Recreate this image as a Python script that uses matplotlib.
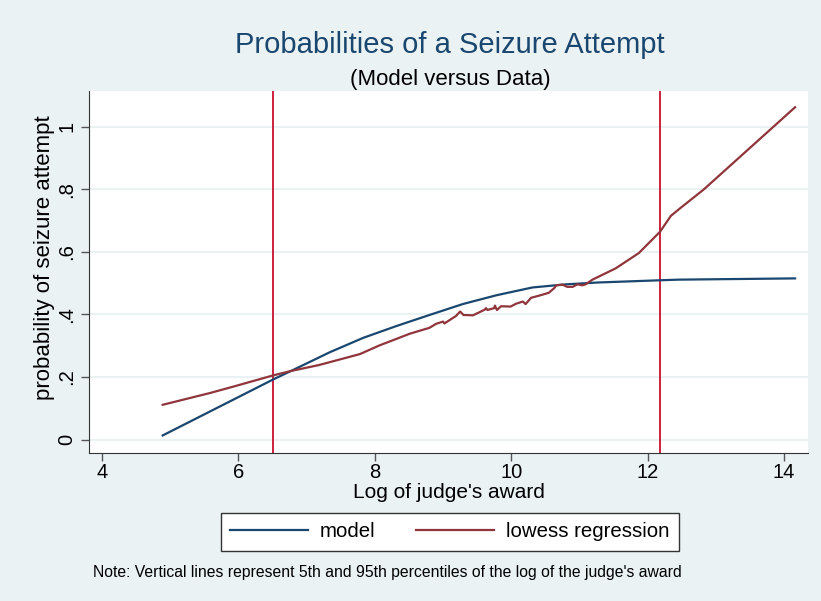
import matplotlib
matplotlib.use("Agg")
import matplotlib.pyplot as plt

plt.rcParams["font.family"] = ["Liberation Sans", "DejaVu Sans"]

# model curve
model_x = [4.89, 6.51, 6.77, 7.34, 7.83, 8.32, 8.80, 9.29, 9.78, 10.31, 10.80, 11.28,
           12.18, 12.45, 14.16]
model_y = [0.013, 0.192, 0.219, 0.279, 0.325, 0.363, 0.398, 0.433, 0.461, 0.486, 0.496,
           0.502, 0.509, 0.511, 0.515]

# lowess regression curve
lowess_x = [4.89, 5.59, 5.94, 6.51, 6.77, 7.18, 7.78, 8.07, 8.51, 8.80, 8.90, 9.00, 9.02, 9.19,
            9.25, 9.30, 9.44, 9.61, 9.63, 9.65, 9.75, 9.76, 9.79, 9.85, 9.99, 10.07, 10.17,
            10.21, 10.29, 10.41, 10.55, 10.63, 10.66, 10.75, 10.82, 10.90, 10.97, 11.04, 11.09,
            11.19, 11.53, 11.87, 12.18, 12.34, 12.48, 12.82, 14.16]
lowess_y = [0.111, 0.149, 0.170, 0.205, 0.219, 0.238, 0.273, 0.301, 0.338, 0.357, 0.370, 0.377,
            0.371, 0.395, 0.409, 0.398, 0.397, 0.415, 0.420, 0.414, 0.420, 0.428, 0.414, 0.426,
            0.425, 0.434, 0.441, 0.433, 0.453, 0.460, 0.469, 0.484, 0.493, 0.495, 0.488, 0.488,
            0.496, 0.493, 0.496, 0.511, 0.547, 0.596, 0.664, 0.715, 0.740, 0.799, 1.062]

# 5th and 95th percentiles
pct_lines = [6.51, 12.18]

xticks = [4, 6, 8, 10, 12, 14]
yticks = [0, 0.2, 0.4, 0.6, 0.8, 1.0]
ytick_labels = ["0", ".2", ".4", ".6", ".8", "1"]

bg = "#EAF2F3"
navy = "#1A476F"
maroon = "#90353B"
red = "#C8102E"

fig = plt.figure(figsize=(8.21, 6.01), dpi=100, facecolor=bg)
ax = fig.add_axes([0.1084, 0.2463, 0.8758, 0.6023])
ax.set_facecolor("white")

for y in yticks:
    ax.axhline(y, color=bg, lw=1.5, zorder=0)

ax.plot(model_x, model_y, color=navy, lw=1.6, label="model", zorder=3)
ax.plot(lowess_x, lowess_y, color=maroon, lw=1.6, label="lowess regression", zorder=3)
for v in pct_lines:
    ax.axvline(v, color=red, lw=1.3, zorder=2)

ax.set_xlim(3.81, 14.35)
ax.set_ylim(-0.043, 1.114)
ax.set_xticks(xticks)
ax.set_yticks(yticks)
ax.set_yticklabels(ytick_labels, rotation=90, va="center")
ax.tick_params(direction="out", length=6, width=1, colors="#555555", labelsize=14.5, labelcolor="black")
ax.tick_params(axis="x", pad=1)
ax.tick_params(axis="y", pad=3)

for s in ["top", "right"]:
    ax.spines[s].set_visible(False)
for s in ["left", "bottom"]:
    ax.spines[s].set_color("#333333")

ax.set_xlabel("Log of judge's award", fontsize=15, labelpad=1)
ax.set_ylabel("probability of seizure attempt", fontsize=16)
ax.yaxis.set_label_coords(-0.047, 0.539)

fig.text(0.548, 0.9118, "Probabilities of a Seizure Attempt", ha="center", va="baseline",
         fontsize=21, color=navy)
fig.text(0.548, 0.8586, "(Model versus Data)", ha="center", va="baseline", fontsize=16)

leg = fig.legend(loc="center", bbox_to_anchor=(0.548, 0.115), ncol=2, fontsize=14.7,
                 frameon=True, fancybox=False, edgecolor="#333333", facecolor="white",
                 framealpha=1, handlelength=3.8, handletextpad=0.6, columnspacing=2.0,
                 borderpad=0.45)
leg.get_frame().set_linewidth(1)

fig.text(0.113, 0.048, "Note: Vertical lines represent 5th and 95th percentiles of the log of the judge's award",
         fontsize=11.3, va="center")

fig.savefig("out.png", dpi=100, facecolor=bg)
